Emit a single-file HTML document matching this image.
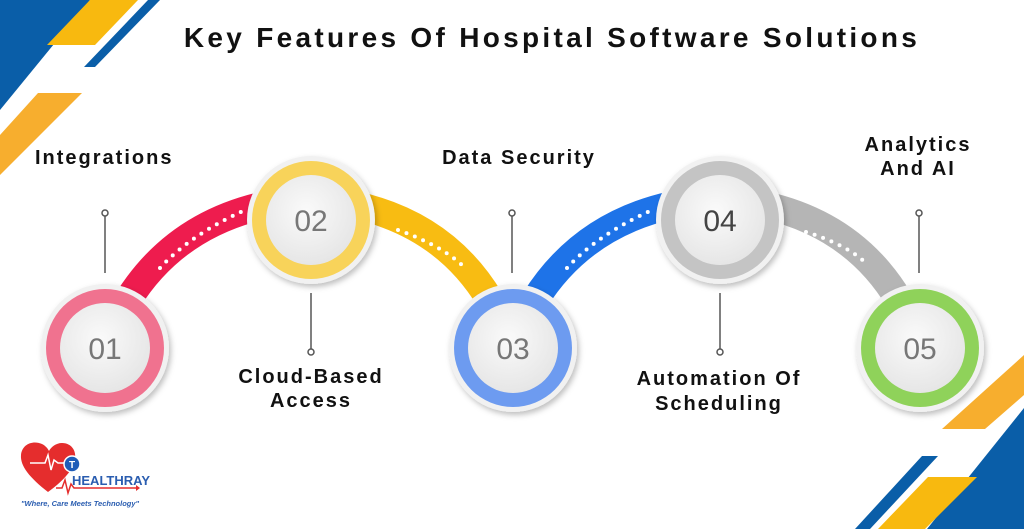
<!DOCTYPE html>
<html><head><meta charset="utf-8"><style>
html,body{margin:0;padding:0;background:#fff;}
svg{display:block;}
text{font-family:"Liberation Sans",sans-serif;}
.lab{font-weight:bold;font-size:20px;fill:#111;letter-spacing:2px;}
.num{font-size:30px;fill:#777;text-anchor:middle;}
</style></head><body>
<svg width="1024" height="529" viewBox="0 0 1024 529" xmlns="http://www.w3.org/2000/svg">
<defs>
<filter id="sh" x="-30%" y="-30%" width="160%" height="160%"><feDropShadow dx="2" dy="3" stdDeviation="3" flood-color="#000" flood-opacity="0.25"/></filter>
<radialGradient id="wg" cx="45%" cy="40%" r="60%"><stop offset="0" stop-color="#fafafa"/><stop offset="1" stop-color="#e6e6e6"/></radialGradient>
</defs>
<polygon points="0,0 90,0 0,110" fill="#0a5ea8"/>
<polygon points="90,0 138,0 95,45 47,45" fill="#f8b90f"/>
<polygon points="148,0 160,0 95,67 84,67" fill="#0a5ea8"/>
<polygon points="38,93 82,93 0,175 0,135" fill="#f7ae2e"/>
<polygon points="1024,355 1024,395 985,429 942,429" fill="#f7ae2e"/>
<polygon points="1024,408 1024,529 927,529" fill="#0a5ea8"/>
<polygon points="928,477 977,477 925,529 878,529" fill="#f8b90f"/>
<polygon points="922,456 938,456 870,529 855,529" fill="#0a5ea8"/>
<text x="552" y="47" font-size="28" font-weight="bold" text-anchor="middle" fill="#111" letter-spacing="3.3">Key Features Of Hospital Software Solutions</text>
<path d="M128,300 Q175,225 265,205" stroke="#ee1c4e" stroke-width="28" fill="none"/>
<path d="M160,268 Q190,235 245,210" stroke="#fff" stroke-width="4" stroke-dasharray="0 9" stroke-linecap="round" fill="none"/>
<path d="M355,205 Q445,225 490,300" stroke="#f8bc12" stroke-width="28" fill="none"/>
<path d="M398,230 Q440,245 462,265" stroke="#fff" stroke-width="4" stroke-dasharray="0 9" stroke-linecap="round" fill="none"/>
<path d="M535,300 Q582,225 672,205" stroke="#1e73e8" stroke-width="28" fill="none"/>
<path d="M567,268 Q597,235 652,210" stroke="#fff" stroke-width="4" stroke-dasharray="0 9" stroke-linecap="round" fill="none"/>
<path d="M764,205 Q854,225 899,300" stroke="#b5b5b5" stroke-width="28" fill="none"/>
<path d="M806,232 Q848,245 868,265" stroke="#fff" stroke-width="4" stroke-dasharray="0 9" stroke-linecap="round" fill="none"/>
<g filter="url(#sh)">
<circle cx="105" cy="348" r="64" fill="#f1f1f1"/><circle cx="105" cy="348" r="59" fill="#f0728f"/><circle cx="105" cy="348" r="45" fill="url(#wg)"/>
<circle cx="311" cy="220" r="64" fill="#f1f1f1"/><circle cx="311" cy="220" r="59" fill="#f8d35a"/><circle cx="311" cy="220" r="45" fill="url(#wg)"/>
<circle cx="513" cy="348" r="64" fill="#f1f1f1"/><circle cx="513" cy="348" r="59" fill="#6d9bf0"/><circle cx="513" cy="348" r="45" fill="url(#wg)"/>
<circle cx="720" cy="220" r="64" fill="#f1f1f1"/><circle cx="720" cy="220" r="59" fill="#c4c4c4"/><circle cx="720" cy="220" r="45" fill="url(#wg)"/>
<circle cx="920" cy="348" r="64" fill="#f1f1f1"/><circle cx="920" cy="348" r="59" fill="#8fd25a"/><circle cx="920" cy="348" r="45" fill="url(#wg)"/>
</g>
<text class="num" x="105" y="359">01</text>
<text class="num" x="311" y="231">02</text>
<text class="num" x="513" y="359">03</text>
<text class="num" x="720" y="231" style="fill:#444">04</text>
<text class="num" x="920" y="359">05</text>
<g stroke="#555" stroke-width="1.5" fill="#fff">
<line x1="105" y1="216" x2="105" y2="273"/><circle cx="105" cy="213" r="3"/>
<line x1="311" y1="293" x2="311" y2="349"/><circle cx="311" cy="352" r="3"/>
<line x1="512" y1="216" x2="512" y2="273"/><circle cx="512" cy="213" r="3"/>
<line x1="720" y1="293" x2="720" y2="349"/><circle cx="720" cy="352" r="3"/>
<line x1="919" y1="216" x2="919" y2="273"/><circle cx="919" cy="213" r="3"/>
</g>
<text class="lab" x="35" y="164">Integrations</text>
<text class="lab" x="311" y="383" text-anchor="middle">Cloud-Based</text>
<text class="lab" x="311" y="407" text-anchor="middle">Access</text>
<text class="lab" x="519" y="164" text-anchor="middle">Data Security</text>
<text class="lab" x="719" y="385" text-anchor="middle">Automation Of</text>
<text class="lab" x="719" y="410" text-anchor="middle">Scheduling</text>
<text class="lab" x="918" y="151" text-anchor="middle">Analytics</text>
<text class="lab" x="918" y="175" text-anchor="middle">And AI</text>
<path d="M48,492 C30,478 20,466 21,455 C22,444 33,440 42,444 C46,446 48,449 49,451 C51,447 56,443 62,443 C72,443 78,452 74,463 C71,472 62,482 48,492Z" fill="#e52d2d"/>
<polyline points="30,463 45,463 48,455 51,470 54,460 58,463 66,463" stroke="#fff" stroke-width="1.5" fill="none"/>
<circle cx="72" cy="464" r="8" fill="#1f5cb8" stroke="#fff" stroke-width="1.5"/>
<text x="72" y="468" font-size="10" fill="#fff" text-anchor="middle" font-weight="bold">T</text>
<polyline points="56,488 62,488 65,480 68,493 71,484 74,488 136,488" stroke="#e52d2d" stroke-width="1.5" fill="none"/>
<polygon points="136,485 140,488 136,491" fill="#e52d2d"/>
<text x="72" y="485" font-size="13" font-weight="bold" fill="#2a5db0">HEALTHRAY</text>
<text x="21" y="506" font-size="7.5" font-weight="bold" fill="#2a5db0" font-style="italic">"Where, Care Meets Technology"</text>
</svg>
</body></html>
